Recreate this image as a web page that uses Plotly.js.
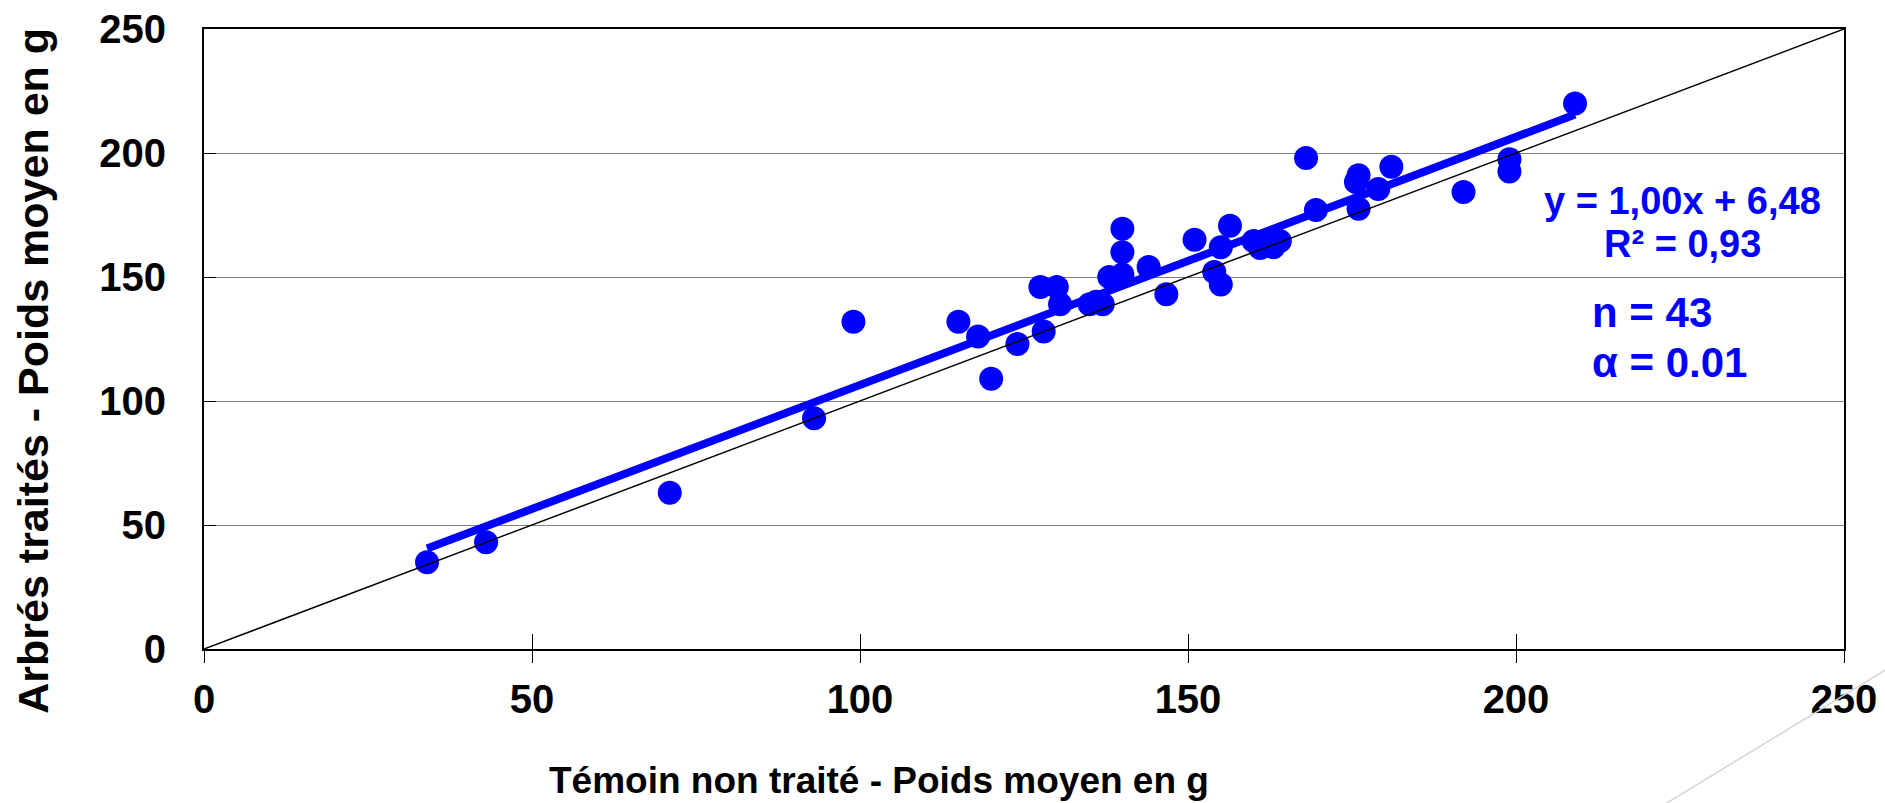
<!DOCTYPE html>
<html>
<head>
<meta charset="utf-8">
<script src="https://cdn.plot.ly/plotly-3.0.1.min.js"></script>
<style>
html,body{margin:0;padding:0;background:#fff;}
#chart{width:1885px;height:803px;}
</style>
</head>
<body>
<div id="chart"></div>
<script>
// Témoin non traité (x) - poids moyen en g
const temoin = [34, 43, 71, 93, 99, 115, 118, 120, 124, 127.5, 128, 130, 130.5, 135, 137, 138, 140, 140, 140, 144, 146.7, 151, 154, 155, 155, 156.4, 160, 161, 163, 164, 168, 169.5, 176, 175.6, 176, 179, 181, 192, 199, 199, 209, 136, 162];
// Arbrés traités (y) - poids moyen en g
const traites = [35, 43, 63, 93, 132, 132, 126, 109, 123, 146, 128, 146, 139, 139, 139, 150, 151, 160, 169.5, 154, 143, 165, 152, 162, 147, 170.7, 164.5, 161.7, 162, 164.5, 198, 177, 191, 188.3, 177.5, 185.5, 194.5, 184.3, 197.5, 192.5, 220, 140, 163];
// Regression
const slope = 1.00;
const intercept = 6.48;
// 1:1 reference line and axis ticks
const identityLine = [0, 250];
const tickValues = [0, 50, 100, 150, 200, 250];
const tickLabels = ['0', '50', '100', '150', '200', '250'];
const equationText = 'y = 1,00x + 6,48';
const r2Text = 'R² = 0,93';
const nText = 'n = 43';
const alphaText = 'α = 0.01';
const xTitle = 'Témoin non traité - Poids moyen en g';
const yTitle = 'Arbrés traités - Poids moyen en g';

const BLUE = '#0000FF';
const FONT = '"Liberation Sans", Arial, sans-serif';

const xMin = Math.min(...temoin), xMax = Math.max(...temoin);
const trendX = [xMin, xMax];
const trendY = trendX.map(v => slope * v + intercept);

const traces = [
  {x: temoin, y: traites, type: 'scatter', mode: 'markers',
   marker: {color: BLUE, size: 24, line: {width: 0}}, hoverinfo: 'x+y'},
  {x: trendX, y: trendY, type: 'scatter', mode: 'lines',
   line: {color: BLUE, width: 8}, hoverinfo: 'skip'},
  {x: identityLine, y: identityLine, type: 'scatter', mode: 'lines',
   line: {color: '#000000', width: 1.5}, hoverinfo: 'skip'},
  {x: [], y: [], xaxis: 'x2', yaxis: 'y', type: 'scatter', mode: 'markers', hoverinfo: 'skip'}
];

const tickFont = {family: FONT, size: 40, color: '#000', weight: 700};
const annFont = (s) => ({family: FONT, size: s, color: BLUE, weight: 700});

const layout = {
  width: 1885, height: 803,
  margin: {l: 204, r: 41, t: 29, b: 154, pad: 0},
  paper_bgcolor: '#fff', plot_bgcolor: '#fff',
  showlegend: false,
  xaxis: {
    range: [identityLine[0], identityLine[1]],
    tickmode: 'array', tickvals: tickValues, ticktext: tickLabels,
    ticks: 'outside', ticklen: 12, tickwidth: 1, tickcolor: '#000',
    showline: true, linewidth: 2, linecolor: '#000', mirror: true,
    showgrid: false, zeroline: false, tickfont: tickFont,
    ticklabelstandoff: 2
  },
  xaxis2: {
    overlaying: 'x', anchor: 'y', side: 'bottom',
    range: [identityLine[0], identityLine[1]],
    tickmode: 'array', tickvals: tickValues,
    ticks: 'inside', ticklen: 15, tickwidth: 1, tickcolor: '#000',
    showticklabels: false, showline: false, showgrid: false, zeroline: false
  },
  yaxis: {
    range: [identityLine[0], identityLine[1]],
    tickmode: 'array', tickvals: tickValues, ticktext: tickLabels,
    ticks: 'inside', ticklen: 12, tickwidth: 1, tickcolor: '#000',
    showline: true, linewidth: 2, linecolor: '#000', mirror: true,
    showgrid: true, gridcolor: '#808080', gridwidth: 1,
    zeroline: false, tickfont: tickFont,
    ticklabelstandoff: 28
  },
  annotations: [
    {text: equationText, xref: 'paper', yref: 'paper', x: 0.9018, y: 0.7226,
     xanchor: 'center', yanchor: 'middle', showarrow: false, font: annFont(38)},
    {text: r2Text, xref: 'paper', yref: 'paper', x: 0.9018, y: 0.653,
     xanchor: 'center', yanchor: 'middle', showarrow: false, font: annFont(38)},
    {text: nText, xref: 'paper', yref: 'paper', x: 0.845, y: 0.5435,
     xanchor: 'left', yanchor: 'middle', showarrow: false, font: annFont(42)},
    {text: alphaText, xref: 'paper', yref: 'paper', x: 0.845, y: 0.4629,
     xanchor: 'left', yanchor: 'middle', showarrow: false, font: annFont(42)},
    {text: xTitle, xref: 'paper', yref: 'paper', x: 0.4116, y: -0.212,
     xanchor: 'center', yanchor: 'middle', showarrow: false,
     font: {family: FONT, size: 37, color: '#000', weight: 700}},
    {text: yTitle, xref: 'paper', yref: 'paper', x: -0.104, y: 0.4495,
     xanchor: 'center', yanchor: 'middle', textangle: -90, showarrow: false,
     font: {family: FONT, size: 43, color: '#000', weight: 700}}
  ],
  shapes: [
    {type: 'line', xref: 'paper', yref: 'paper', x0: 1.025, y0: -0.034, x1: 0.891, y1: -0.25,
     line: {color: '#d4d4d4', width: 1.5}}
  ]
};

Plotly.newPlot('chart', traces, layout, {displayModeBar: false, staticPlot: true});
</script>
</body>
</html>
